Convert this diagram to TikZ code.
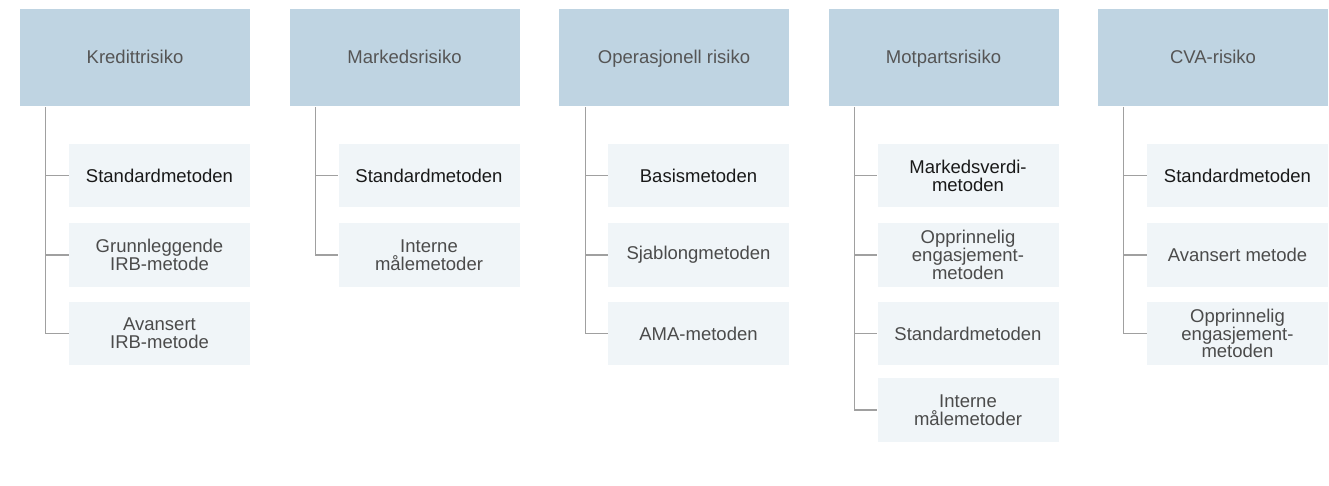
\documentclass[tikz,border=0pt]{standalone}
\usepackage{fontspec}
\setmainfont{Liberation Sans}
\definecolor{headblue}{RGB}{191, 212, 226}
\definecolor{methfill}{RGB}{240, 245, 248}
\definecolor{linegray}{RGB}{160, 160, 160}
\definecolor{headtext}{RGB}{85, 85, 85}
\definecolor{methtext}{RGB}{75, 75, 75}
\usepackage{tikz}

\begin{document}
\begin{tikzpicture}[
  x=0.5pt, y=-0.5pt,
  head/.style={fill=headblue, minimum width=115pt, minimum height=48.75pt, inner sep=0pt, text height=7.3pt, text depth=1.5pt, text=headtext, font=\fontsize{9.25}{9}\selectfont},
  meth/.style={fill=methfill, minimum width=90.5pt, minimum height=31.75pt, inner sep=0pt, align=center, text=methtext, font=\fontsize{9.25}{8.9}\selectfont},
  firstmeth/.style={meth, text=black!90},
  link/.style={draw=linegray, line width=0.6pt}
]
  \useasboundingbox (0,0) rectangle (1329,486);

  % risk headers
  \node[head] (kred) at (135, 57.75) {Kredittrisiko};
  \node[head] (mark) at (404.5, 57.75) {Markedsrisiko};
  \node[head] (oper) at (674, 57.75) {Operasjonell risiko};
  \node[head] (motp) at (943.5, 57.75) {Motpartsrisiko};
  \node[head] (cva) at (1213, 57.75) {CVA-risiko};

  % methods
  \node[firstmeth] (kred1) at (159.5, 175.5) {Standardmetoden};
  \node[meth] (kred2) at (159.5, 255) {Grunnleggende\\IRB-metode};
  \node[meth] (kred3) at (159.5, 333.5) {Avansert\\IRB-metode};

  \node[firstmeth] (mark1) at (429, 175.5) {Standardmetoden};
  \node[meth] (mark2) at (429, 255) {Interne\\målemetoder};

  \node[firstmeth] (oper1) at (698.5, 175.5) {Basismetoden};
  \node[meth] (oper2) at (698.5, 255) {Sjablongmetoden};
  \node[meth] (oper3) at (698.5, 333.5) {AMA-metoden};

  \node[firstmeth] (motp1) at (968, 175.5) {Markedsverdi-\\metoden};
  \node[meth] (motp2) at (968, 255) {Opprinnelig\\engasjement-\\metoden};
  \node[meth] (motp3) at (968, 333.5) {Standardmetoden};
  \node[meth] (motp4) at (968, 410) {Interne\\målemetoder};

  \node[firstmeth] (cva1) at (1237.5, 175.5) {Standardmetoden};
  \node[meth] (cva2) at (1237.5, 255) {Avansert metode};
  \node[meth] (cva3) at (1237.5, 333.5) {Opprinnelig\\engasjement-\\metoden};

  % tree lines
  \coordinate (kred-l) at ([xshift=12.75pt]kred.south west);
  \coordinate (mark-l) at ([xshift=13pt]mark.south west);
  \coordinate (oper-l) at ([xshift=13.25pt]oper.south west);
  \coordinate (motp-l) at ([xshift=13pt]motp.south west);
  \coordinate (cva-l) at ([xshift=12.75pt]cva.south west);

  \draw[link] (kred-l) |- (kred3.west);
  \draw[link] (kred-l |- kred1.west) -- (kred1.west);
  \draw[link] (kred-l |- kred2.west) -- (kred2.west);

  \draw[link] (mark-l) |- (mark2.west);
  \draw[link] (mark-l |- mark1.west) -- (mark1.west);

  \draw[link] (oper-l) |- (oper3.west);
  \draw[link] (oper-l |- oper1.west) -- (oper1.west);
  \draw[link] (oper-l |- oper2.west) -- (oper2.west);

  \draw[link] (motp-l) |- (motp4.west);
  \draw[link] (motp-l |- motp1.west) -- (motp1.west);
  \draw[link] (motp-l |- motp2.west) -- (motp2.west);
  \draw[link] (motp-l |- motp3.west) -- (motp3.west);

  \draw[link] (cva-l) |- (cva3.west);
  \draw[link] (cva-l |- cva1.west) -- (cva1.west);
  \draw[link] (cva-l |- cva2.west) -- (cva2.west);
\end{tikzpicture}
\end{document}
